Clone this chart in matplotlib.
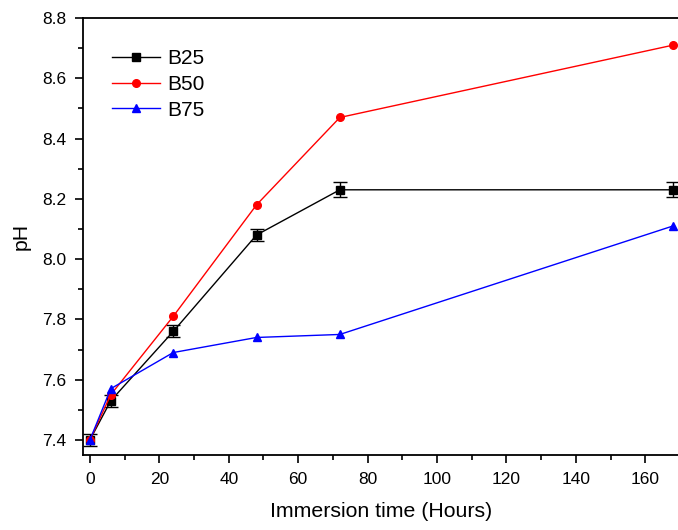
import matplotlib
matplotlib.use("Agg")
import matplotlib.pyplot as plt
from matplotlib.ticker import MultipleLocator

plt.rcParams["font.family"] = ["Liberation Sans", "DejaVu Sans"]

time_h = [0, 6, 24, 48, 72, 168]
b25 = [7.40, 7.53, 7.76, 8.08, 8.23, 8.23]
b25_err = [0.02, 0.02, 0.02, 0.02, 0.025, 0.025]
b50 = [7.40, 7.55, 7.81, 8.18, 8.47, 8.71]
b75 = [7.40, 7.57, 7.69, 7.74, 7.75, 8.11]

fig = plt.figure(figsize=(6.78, 5.30), dpi=100)
ax = fig.add_axes([0.1224, 0.1415, 0.8805, 0.8245])

# error bars for B25 drawn separately so the legend shows plain line + marker
ax.errorbar(time_h, b25, yerr=b25_err, fmt="none", ecolor="black",
            capsize=5, elinewidth=1)
ax.plot(time_h, b25, color="black", marker="s", markersize=5.5, linewidth=1, label="B25")
ax.plot(time_h, b50, color="red", marker="o", markersize=5.5, linewidth=1, label="B50")
ax.plot(time_h, b75, color="blue", marker="^", markersize=5.5, linewidth=1, label="B75")

ax.set_xlim(-2, 170)
ax.set_ylim(7.35, 8.8)
ax.xaxis.set_major_locator(MultipleLocator(20))
ax.xaxis.set_minor_locator(MultipleLocator(10))
ax.yaxis.set_major_locator(MultipleLocator(0.2))
ax.yaxis.set_minor_locator(MultipleLocator(0.1))
ax.tick_params(which="major", direction="out", length=6, width=1.2,
               labelsize=12.5, pad=6)
ax.tick_params(which="minor", direction="out", length=3.5, width=1.2)
for s in ax.spines.values():
    s.set_linewidth(1.3)

ax.set_xlabel("Immersion time (Hours)", fontsize=15.3, labelpad=11)
ax.set_ylabel("pH", fontsize=15.3, labelpad=8)

leg = ax.legend(loc="upper left", frameon=False, fontsize=15, handlelength=2.3,
                borderaxespad=1.0, labelspacing=0.32, handletextpad=0.35,
                bbox_to_anchor=(0.0, 0.995))

fig.savefig("out.png", dpi=100)
